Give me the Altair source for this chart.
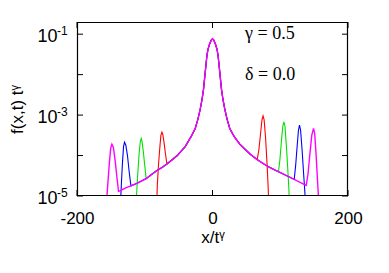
import altair as alt
import pandas as pd

# ---- shared central peak ----
CORE_X = [-40.3, -31.9, -25.5, -21.5, -18.2, -15.5, -13.3, -10.8, -8.3, -6.8, -4.4, -2.0, 0.0,
          2.0, 4.4, 6.8, 8.3, 10.8, 13.3, 15.5, 18.2, 21.5, 25.5, 31.9, 40.3]
CORE_F = [1.66e-4, 2.88e-4, 4.68e-4, 7.94e-4, 1.38e-3, 2.40e-3, 4.27e-3, 1.12e-2, 2.88e-2, 4.17e-2, 5.62e-2, 7.08e-2, 7.69e-2,
          7.08e-2, 5.62e-2, 4.17e-2, 2.88e-2, 1.12e-2, 4.27e-3, 2.40e-3, 1.38e-3, 7.94e-4, 4.68e-4, 2.95e-4, 1.91e-4]

# ---- shared tails ----
LEFT_ENV_X = [-138.7, -134.0, -128.0, -120.4, -112.0, -105.0, -97.9, -90.0, -82.0, -75.0, -67.3, -60.0, -52.0]
LEFT_ENV_F = [1.29e-5, 1.41e-5, 1.58e-5, 1.78e-5, 2.04e-5, 2.34e-5, 2.69e-5, 3.39e-5, 4.27e-5, 5.01e-5, 6.17e-5, 7.76e-5, 1.00e-4]
RIGHT_ENV_X = [48.3, 56.0, 66.0, 75.0, 82.7, 90.0, 97.4, 105.0, 112.0, 120.6, 130.0, 138.3]
RIGHT_ENV_F = [1.41e-4, 1.07e-4, 7.94e-5, 6.31e-5, 5.25e-5, 4.57e-5, 3.98e-5, 3.47e-5, 3.02e-5, 2.57e-5, 2.14e-5, 1.82e-5]

# ---- fronts of each series ----
SERIES = ["red", "green", "blue", "magenta"]
COLORS = ["#ff0000", "#00e000", "#0000ff", "#ff00ff"]
WIDTHS = [1.1, 1.1, 1.1, 1.4]
LEFT_CUT = [-67.3, -97.9, -120.4, -138.7]
RIGHT_CUT = [66.0, 97.4, 120.6, 138.3]

RED_LEFT_X = [-82.5, -81.5, -80.0, -78.0, -76.2, -74.7, -73.3, -71.5, -69.5]
RED_LEFT_F = [5.0e-6, 1.78e-5, 5.01e-5, 1.41e-4, 3.16e-4, 3.80e-4, 3.31e-4, 2.09e-4, 1.12e-4]
RED_RIGHT_X = [68.5, 71.0, 73.0, 74.6, 76.2, 78.3, 80.5, 82.2, 83.2]
RED_RIGHT_F = [1.41e-4, 3.55e-4, 7.59e-4, 9.55e-4, 7.59e-4, 2.82e-4, 6.31e-5, 1.58e-5, 5.0e-6]

GREEN_LEFT_X = [-113.0, -112.0, -110.5, -108.5, -106.6, -105.2, -104.0, -102.0, -100.0]
GREEN_LEFT_F = [3.98e-6, 1.12e-5, 3.16e-5, 1.00e-4, 2.19e-4, 2.63e-4, 2.24e-4, 1.20e-4, 5.62e-5]
GREEN_RIGHT_X = [99.5, 101.7, 103.8, 105.4, 107.0, 109.0, 111.0, 112.8, 113.8]
GREEN_RIGHT_F = [7.94e-5, 2.24e-4, 5.37e-4, 6.76e-4, 5.25e-4, 1.78e-4, 5.01e-5, 1.41e-5, 5.0e-6]

BLUE_LEFT_X = [-136.0, -135.3, -134.2, -132.8, -131.3, -129.9, -128.0, -125.5, -123.0]
BLUE_LEFT_F = [3.98e-6, 1.00e-5, 2.51e-5, 7.08e-5, 1.66e-4, 2.14e-4, 1.82e-4, 1.00e-4, 3.98e-5]
BLUE_RIGHT_X = [122.7, 124.8, 126.8, 128.4, 130.0, 132.2, 134.5, 136.5, 137.5]
BLUE_RIGHT_F = [5.62e-5, 1.58e-4, 4.17e-4, 5.62e-4, 4.27e-4, 1.41e-4, 3.55e-5, 1.12e-5, 3.98e-6]

MAG_LEFT_X = [-156.6, -155.8, -154.3, -152.3, -150.3, -148.5, -146.3, -143.5, -141.0]
MAG_LEFT_F = [3.98e-6, 1.00e-5, 2.24e-5, 6.31e-5, 1.51e-4, 1.91e-4, 1.58e-4, 7.08e-5, 2.82e-5]
MAG_RIGHT_X = [141.0, 143.5, 146.5, 149.1, 150.8, 152.8, 154.8, 156.3, 157.2]
MAG_RIGHT_F = [3.55e-5, 1.00e-4, 3.16e-4, 4.68e-4, 3.55e-4, 1.12e-4, 2.82e-5, 1.00e-5, 3.98e-6]

FRONTS = [
    (RED_LEFT_X, RED_LEFT_F, RED_RIGHT_X, RED_RIGHT_F),
    (GREEN_LEFT_X, GREEN_LEFT_F, GREEN_RIGHT_X, GREEN_RIGHT_F),
    (BLUE_LEFT_X, BLUE_LEFT_F, BLUE_RIGHT_X, BLUE_RIGHT_F),
    (MAG_LEFT_X, MAG_LEFT_F, MAG_RIGHT_X, MAG_RIGHT_F),
]

ANNOT_TEXT = ["γ = 0.5", "δ = 0.0"]
ANNOT_X = [48, 48]
ANNOT_Y = [0.1, 0.01]

Y_LABEL_VALUES = [1e-5, 1e-3, 1e-1]
Y_LABEL_EXP = ["-5", "-3", "-1"]
Y_TICKS = [1e-5, 1e-4, 1e-3, 1e-2, 1e-1]
X_TICKS = [-200, 0, 200]

rows = []
for name, lcut, rcut, (lx, lf, rx, rf) in zip(SERIES, LEFT_CUT, RIGHT_CUT, FRONTS):
    xs, fs = list(lx), list(lf)
    for x, f in zip(LEFT_ENV_X, LEFT_ENV_F):
        if x >= lcut:
            xs.append(x); fs.append(f)
    xs += CORE_X; fs += CORE_F
    for x, f in zip(RIGHT_ENV_X, RIGHT_ENV_F):
        if x <= rcut:
            xs.append(x); fs.append(f)
    xs += rx; fs += rf
    for i, (x, f) in enumerate(zip(xs, fs)):
        rows.append({"series": name, "x": x, "f": f, "order": i})
df = pd.DataFrame(rows)

W, H = 271, 174
xscale = alt.Scale(domain=[-200, 200], nice=False, zero=False)
yscale = alt.Scale(type="log", domain=[1e-5, 0.2], nice=False)

x_axis = alt.Axis(values=X_TICKS, labelExpr="'' + datum.value", ticks=False, domain=False, grid=False,
                  labelFlush=False, labelOverlap=False,
                  labelFont="Liberation Sans", labelFontSize=17, labelPadding=14, labelColor="black",
                  title="x/tᵞ", titleFont="Liberation Sans", titleFontSize=17, titleFontWeight="normal",
                  titleColor="black", titleX=W / 2, titleY=46, titleAlign="center", titleBaseline="alphabetic")
y_axis = alt.Axis(values=Y_LABEL_VALUES, labelExpr="'10'",
                  ticks=False, domain=False, grid=False, labelFlush=False, labelOverlap=False,
                  labelFont="Liberation Sans", labelFontSize=18,
                  labelPadding=20, labelColor="black", labelBaseline="middle", labelOffset=2,
                  title="f(x,t) tᵞ", titleFont="Liberation Sans", titleFontSize=17, titleFontWeight="normal",
                  titleColor="black", titleX=-60, titleY=H / 2, titleAngle=270, titleAlign="center",
                  titleBaseline="middle")

layers = []
for name, col, sw in zip(SERIES, COLORS, WIDTHS):
    layers.append(
        alt.Chart(df).transform_filter(alt.datum.series == name).mark_line(
            color=col, strokeWidth=sw, clip=True
        ).encode(
            x=alt.X("x:Q", scale=xscale, axis=x_axis),
            y=alt.Y("f:Q", scale=yscale, axis=y_axis),
            order="order:Q",
        )
    )

ytick_df = pd.DataFrame({"y": Y_TICKS})
xtick_df = pd.DataFrame({"x": X_TICKS})
tk = dict(color="black", strokeWidth=1)
ticks = [
    alt.Chart(ytick_df).mark_rule(**tk).encode(y=alt.Y("y:Q", scale=yscale), x=alt.value(0), x2=alt.value(6)),
    alt.Chart(ytick_df).mark_rule(**tk).encode(y=alt.Y("y:Q", scale=yscale), x=alt.value(W - 6), x2=alt.value(W)),
    alt.Chart(xtick_df).mark_rule(**tk).encode(x=alt.X("x:Q", scale=xscale), y=alt.value(H), y2=alt.value(H - 6)),
    alt.Chart(xtick_df).mark_rule(**tk).encode(x=alt.X("x:Q", scale=xscale), y=alt.value(0), y2=alt.value(6)),
]

frame = alt.Chart(pd.DataFrame({"k": [0]})).mark_rect(
    fill=None, stroke="black", strokeWidth=1.2, clip=False
).encode(x=alt.value(0.5), x2=alt.value(W - 0.5), y=alt.value(0.5), y2=alt.value(H - 0.5))

exps = alt.Chart(pd.DataFrame({"y": Y_LABEL_VALUES, "e": Y_LABEL_EXP})).mark_text(
    font="Liberation Sans", fontSize=12, align="left", baseline="middle", color="black", dy=-3, clip=False
).encode(y=alt.Y("y:Q", scale=yscale), x=alt.value(-20), text="e:N")

annot = alt.Chart(pd.DataFrame({"t": ANNOT_TEXT, "x": ANNOT_X, "y": ANNOT_Y})).mark_text(
    font="Liberation Serif", fontSize=18, align="left", baseline="middle", color="black"
).encode(x=alt.X("x:Q", scale=xscale), y=alt.Y("y:Q", scale=yscale), text="t:N")

chart = alt.layer(*layers, *ticks, frame, exps, annot).properties(
    width=W, height=H,
    autosize=alt.AutoSizeParams(type="none"),
    padding={"left": 69, "top": 14, "right": 25, "bottom": 55},
    background="white",
).configure_view(stroke=None)

chart.save("out.html", embed_options={"renderer": "svg", "actions": False})
